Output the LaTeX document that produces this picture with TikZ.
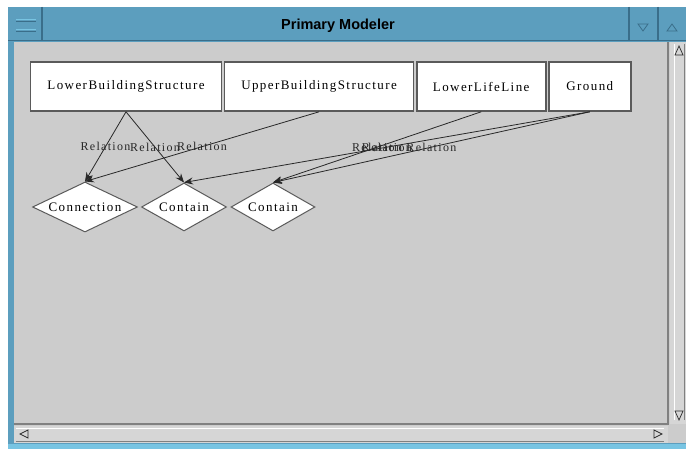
\documentclass[tikz,border=0pt]{standalone}
\usepackage{fontspec}
\usepackage{tikz}
\usetikzlibrary{shapes.geometric}
\usetikzlibrary{arrows.meta}
\usetikzlibrary{positioning}

\newfontfamily\boxfont[LetterSpace=11]{Liberation Serif}
\newfontfamily\titlefont{Liberation Sans}

\definecolor{frameblue}{RGB}{92,158,190}
\definecolor{framedark}{RGB}{58,110,138}
\definecolor{framelight}{RGB}{120,196,226}
\definecolor{canvasgray}{RGB}{204,204,204}
\definecolor{bargray}{RGB}{214,214,214}
\definecolor{shadegray}{RGB}{128,128,128}
\definecolor{boxline}{RGB}{90,90,90}
\definecolor{edgeline}{RGB}{40,40,40}

\begin{document}
\begin{tikzpicture}[x=1pt,y=-1pt,thick]
			\tikzstyle{entity}=[draw=boxline,fill=white,line width=1.6pt,minimum height=49pt,inner sep=0pt,font={\boxfont\fontsize{13}{15}\selectfont}]
			\tikzstyle{relship}=[diamond,draw=boxline,fill=white,line width=1pt,inner sep=0pt,aspect=2,font={\boxfont\fontsize{13}{15}\selectfont}]
			\tikzstyle{every edge}=[draw=edgeline,line width=0.8pt,-{Stealth[length=9pt,width=7pt]}]
			\tikzstyle{rel}=[draw=none,inner sep=0pt,text=edgeline,font={\boxfont\fontsize{12}{14}\selectfont}]
			\useasboundingbox (0,0) rectangle (686,449);
			\fill[white] (0,0) rectangle (686,449);
			
			% window frame and title bar
			\fill[frameblue] (8,7) rectangle (686,449);
			\fill[framelight] (8,444) rectangle (686,449);
			\draw[framedark,line width=1pt] (8,41) -- (686,41);
			\foreach \bx in {42,629,658}
				\draw[framedark,line width=1.2pt] (\bx,7) -- (\bx,41);
			\draw[framelight,line width=1pt] (16,20) -- (36,20) (16,30) -- (36,30);
			\draw[framedark,line width=1pt] (16,22) -- (36,22) (16,32) -- (36,32);
			\draw[framedark,line width=0.8pt] (638,24) -- (648,24) -- (643,31) -- cycle;
			\draw[framedark,line width=0.8pt] (667,31) -- (677,31) -- (672,24) -- cycle;
			\node[font={\titlefont\bfseries\fontsize{14.5}{16}\selectfont},inner sep=0pt] (title) at (338,26) {Primary Modeler};
			
			% drawing area and scroll bars
			\fill[canvasgray] (14,42) rectangle (686,443);
			\fill[bargray] (14,426) rectangle (668,443);
			\fill[bargray] (670,42) rectangle (686,424);
			\draw[white,line width=1pt] (16,428) -- (664,428);
			\draw[shadegray,line width=1pt] (16,441) -- (664,441);
			\draw[white,line width=1pt] (674,44) -- (674,420);
			\draw[shadegray,line width=1pt] (684,44) -- (684,420);
			\draw[shadegray,line width=1.2pt] (14,424) -- (668,424) -- (668,42);
			\draw[edgeline,line width=0.7pt] (20,434) -- (28,430) -- (28,438) -- cycle;
			\draw[edgeline,line width=0.7pt] (662,434) -- (654,430) -- (654,438) -- cycle;
			\draw[edgeline,line width=0.7pt] (679,46) -- (675,55) -- (683,55) -- cycle;
			\draw[edgeline,line width=0.7pt] (679,420) -- (675,411) -- (683,411) -- cycle;
			
			\node[entity,minimum width=191pt] (lbs) at (126,86.5) {LowerBuildingStructure};
			\node[entity,minimum width=189pt,right=1.5pt of lbs] (ubs) {UpperBuildingStructure};
			\node[entity,minimum width=129pt,right=1.5pt of ubs] (lll) {LowerLifeLine};
			\node[entity,minimum width=82pt,right=1.5pt of lll] (gnd) {Ground};
			
			\node[relship,minimum width=105pt,minimum height=50pt] (conn) at (85,207) {Connection};
			\node[relship,minimum width=85pt,minimum height=48pt] (cont1) at (184,207) {Contain};
			\node[relship,minimum width=84pt,minimum height=48pt] (cont2) at (273,207) {Contain};
			
			\draw (lbs.south) edge node [rel] {Relation} (conn.north);
			\draw (lbs.south) edge node [rel] {Relation} (cont1.north);
			\draw (ubs.south) edge node [rel] {Relation} (conn.north);
			\draw (lll.south) edge node [rel] {Relation} (cont2.north);
			\draw (gnd.south) edge node [rel] {Relation} (cont1.north);
			\draw (gnd.south) edge node [rel] {Relation} (cont2.north);
\end{tikzpicture}
\end{document}
